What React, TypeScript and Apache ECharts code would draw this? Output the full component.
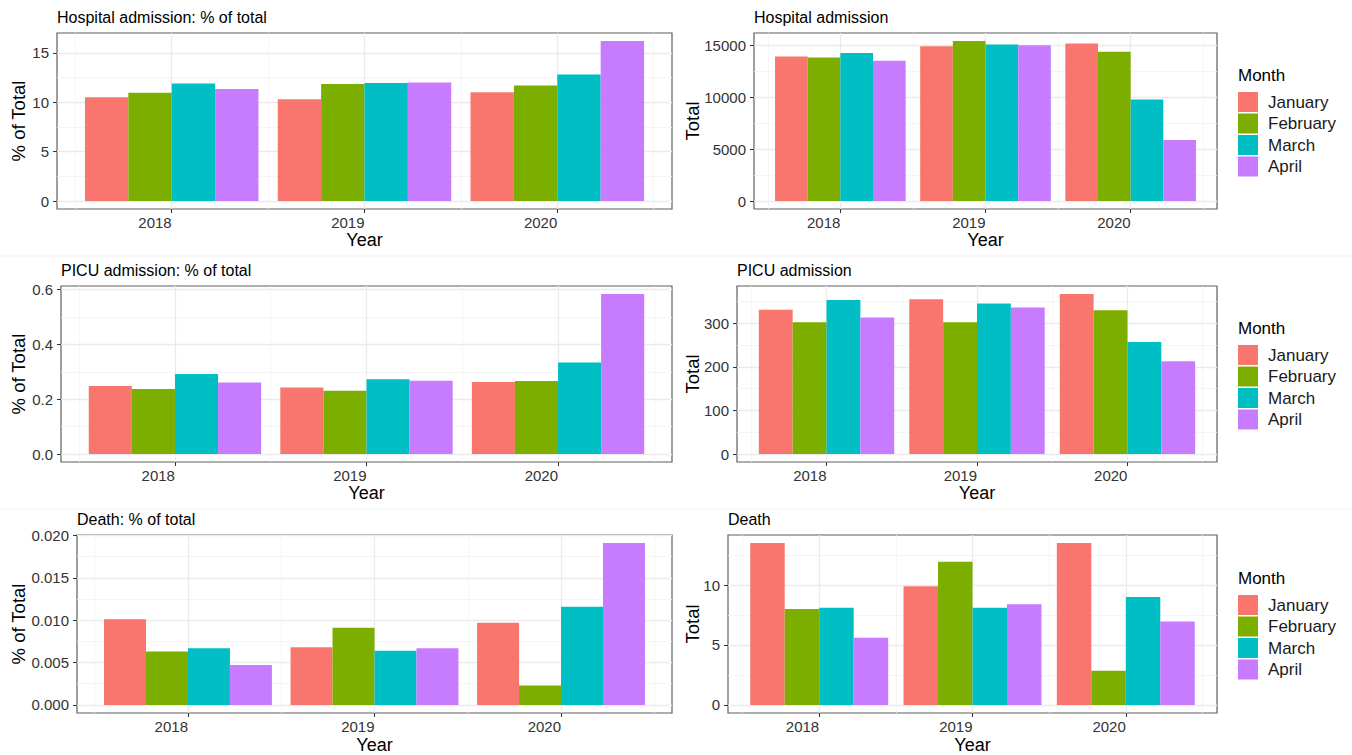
import React, { useEffect, useRef } from "react";
import * as echarts from "echarts";

// ---------- data ----------
const years = [2018, 2019, 2020];
const months = ["January", "February", "March", "April"];
const monthColors = ["#F8766D", "#7CAE00", "#00BFC4", "#C77CFF"];

// values indexed [month][year]
const hospitalPct = [
  [10.5, 10.3, 11.0],
  [10.95, 11.85, 11.7],
  [11.9, 11.95, 12.8],
  [11.35, 12.0, 16.2],
];
const hospitalTotal = [
  [13950, 14950, 15200],
  [13850, 15450, 14400],
  [14300, 15100, 9800],
  [13550, 15050, 5900],
];
const picuPct = [
  [0.248, 0.243, 0.263],
  [0.237, 0.231, 0.266],
  [0.292, 0.273, 0.334],
  [0.261, 0.267, 0.584],
];
const picuTotal = [
  [331, 355, 367],
  [302, 302, 330],
  [353, 345, 257],
  [313, 336, 213],
];
const deathPct = [
  [0.0101, 0.0068, 0.0097],
  [0.0063, 0.0091, 0.0023],
  [0.0067, 0.0064, 0.0116],
  [0.0047, 0.0067, 0.0191],
];
const deathTotal = [
  [13.5, 9.9, 13.5],
  [8.0, 11.95, 2.85],
  [8.1, 8.1, 9.0],
  [5.6, 8.4, 6.95],
];

const hospitalPctTicks = [0, 5, 10, 15];
const hospitalPctMinor = [2.5, 7.5, 12.5];
const hospitalTotalTicks = [0, 5000, 10000, 15000];
const hospitalTotalMinor = [2500, 7500, 12500];
const picuPctTicks = [0, 0.2, 0.4, 0.6];
const picuPctMinor = [0.1, 0.3, 0.5];
const picuTotalTicks = [0, 100, 200, 300];
const picuTotalMinor = [50, 150, 250, 350];
const deathPctTicks = [0, 0.005, 0.01, 0.015, 0.02];
const deathPctMinor = [0.0025, 0.0075, 0.0125, 0.0175];
const deathTotalTicks = [0, 5, 10];
const deathTotalMinor = [2.5, 7.5, 12.5];
const yearMinor = [2017.5, 2018.5, 2019.5, 2020.5];

const titles = [
  "Hospital admission: % of total",
  "Hospital admission",
  "PICU admission: % of total",
  "PICU admission",
  "Death: % of total",
  "Death",
];
const yTitles = ["% of Total", "Total", "% of Total", "Total", "% of Total", "Total"];
const xTitle = "Year";
const legendTitle = "Month";

// ---------- layout ----------
const FONT = "Liberation Sans";
const panels = [
  { left: 57, right: 672, top: 33, bottom: 209, titleX: 57, yTitleX: 18, xTitleY: 240, values: hospitalPct, ticks: hospitalPctTicks, minor: hospitalPctMinor, dec: 0 },
  { left: 754, right: 1217, top: 33, bottom: 209, titleX: 754, yTitleX: 692, xTitleY: 240, values: hospitalTotal, ticks: hospitalTotalTicks, minor: hospitalTotalMinor, dec: 0 },
  { left: 61, right: 672, top: 286, bottom: 462, titleX: 61, yTitleX: 18, xTitleY: 493, values: picuPct, ticks: picuPctTicks, minor: picuPctMinor, dec: 1 },
  { left: 737, right: 1217, top: 286, bottom: 462, titleX: 737, yTitleX: 692, xTitleY: 493, values: picuTotal, ticks: picuTotalTicks, minor: picuTotalMinor, dec: 0 },
  { left: 77, right: 672, top: 535, bottom: 713, titleX: 77, yTitleX: 18, xTitleY: 745, values: deathPct, ticks: deathPctTicks, minor: deathPctMinor, dec: 3 },
  { left: 728, right: 1217, top: 535, bottom: 713, titleX: 728, yTitleX: 692, xTitleY: 745, values: deathTotal, ticks: deathTotalTicks, minor: deathTotalMinor, dec: 0 },
];
const legendRows = [
  { titleY: 75, top: 92 },
  { titleY: 328, top: 345 },
  { titleY: 578, top: 595 },
];

function buildOption() {
  const barFrac = 0.9; // ggplot dodge width
  const span = years[years.length - 1] - years[0] + barFrac;
  const xMin = years[0] - barFrac / 2 - 0.05 * span;
  const xMax = years[years.length - 1] + barFrac / 2 + 0.05 * span;

  const grid: any[] = [];
  const xAxis: any[] = [];
  const yAxis: any[] = [];
  const series: any[] = [];
  const elements: any[] = [];

  panels.forEach((p, i) => {
    const maxV = Math.max(...p.values.flat());
    const yMin = -0.05 * maxV;
    const yMax = 1.05 * maxV;
    grid.push({
      left: p.left,
      top: p.top,
      width: p.right - p.left,
      height: p.bottom - p.top,
      show: true,
      borderColor: "#5f5f5f",
      borderWidth: 1.2,
      backgroundColor: "#ffffff",
      containLabel: false,
      outerBoundsMode: "none",
    });
    // major x axis
    xAxis.push({
      type: "value",
      gridIndex: i,
      min: xMin,
      max: xMax,
      position: "bottom",
      axisLine: { show: false, onZero: false },
      axisTick: { show: true, length: 4, customValues: years, lineStyle: { color: "#333333", width: 1 } },
      axisLabel: {
        customValues: years,
        align: "right",
        margin: 6,
        fontSize: 15,
        fontFamily: FONT,
        color: "#333333",
        formatter: (v: number) => String(v),
      },
      splitLine: { show: true, lineStyle: { color: "#EBEBEB", width: 1.3 } },
    });
    // minor x axis (grid lines only)
    xAxis.push({
      type: "value",
      gridIndex: i,
      min: xMin,
      max: xMax,
      position: "top",
      axisLine: { show: false, onZero: false },
      axisTick: { show: false, customValues: yearMinor },
      axisLabel: { show: false, customValues: yearMinor },
      splitLine: { show: true, lineStyle: { color: "#F2F2F2", width: 0.8 } },
    });
    yAxis.push({
      type: "value",
      gridIndex: i,
      min: yMin,
      max: yMax,
      position: "left",
      axisLine: { show: false, onZero: false },
      axisTick: { show: true, length: 4, customValues: p.ticks, lineStyle: { color: "#333333", width: 1 } },
      axisLabel: {
        customValues: p.ticks,
        margin: 8,
        fontSize: 15,
        fontFamily: FONT,
        color: "#333333",
        formatter: (v: number) => v.toFixed(p.dec),
      },
      splitLine: { show: true, lineStyle: { color: "#EBEBEB", width: 1.3 } },
    });
    yAxis.push({
      type: "value",
      gridIndex: i,
      min: yMin,
      max: yMax,
      position: "right",
      axisLine: { show: false, onZero: false },
      axisTick: { show: false, customValues: p.minor },
      axisLabel: { show: false, customValues: p.minor },
      splitLine: { show: true, lineStyle: { color: "#F2F2F2", width: 0.8 } },
    });
    months.forEach((m, mi) => {
      series.push({
        type: "bar",
        name: m,
        xAxisIndex: 2 * i,
        yAxisIndex: 2 * i,
        data: years.map((y, k) => [y, p.values[mi][k]]),
        barWidth: (barFrac / months.length) * 100 + "%",
        barGap: "0%",
        itemStyle: { color: monthColors[mi] },
        emphasis: { disabled: true },
      });
    });
    // plot title
    elements.push({
      type: "text",
      x: p.titleX,
      y: p.top - 16,
      style: { text: titles[i], fontSize: 16, fontFamily: FONT, fill: "#000", textAlign: "left", textVerticalAlign: "middle" },
    });
    // y title
    elements.push({
      type: "text",
      x: p.yTitleX,
      y: (p.top + p.bottom) / 2,
      rotation: Math.PI / 2,
      style: { text: yTitles[i], fontSize: 18.5, fontFamily: FONT, fill: "#000", textAlign: "center", textVerticalAlign: "middle" },
    });
    // x title
    elements.push({
      type: "text",
      x: (p.left + p.right) / 2,
      y: p.xTitleY,
      style: { text: xTitle, fontSize: 18, fontFamily: FONT, fill: "#000", textAlign: "center", textVerticalAlign: "middle" },
    });
  });

  // faint separators between rows
  [256, 509].forEach((y) => {
    elements.push({ type: "line", shape: { x1: 0, y1: y, x2: 1352, y2: y }, style: { stroke: "#F3F3F3", lineWidth: 1 }, silent: true });
  });

  const legend = legendRows.map((r) => ({
    data: months,
    orient: "vertical",
    left: 1238,
    top: r.top,
    padding: 0,
    itemWidth: 20,
    itemHeight: 20,
    itemGap: 1.5,
    icon: "rect",
    selectedMode: false,
    textStyle: { fontSize: 17, fontFamily: FONT, color: "#1a1a1a", padding: [0, 0, 0, 5] },
  }));
  legendRows.forEach((r) => {
    elements.push({
      type: "text",
      x: 1238,
      y: r.titleY,
      style: { text: legendTitle, fontSize: 17, fontFamily: FONT, fill: "#000", textAlign: "left", textVerticalAlign: "middle" },
    });
  });

  return {
    animation: false,
    backgroundColor: "#ffffff",
    textStyle: { fontFamily: FONT },
    grid,
    xAxis,
    yAxis,
    series,
    legend,
    graphic: { elements },
  };
}

export default function App() {
  const ref = useRef<HTMLDivElement>(null);
  useEffect(() => {
    if (!ref.current) return;
    const chart = echarts.init(ref.current, null, { renderer: "svg" });
    chart.setOption(buildOption() as any);
    return () => chart.dispose();
  }, []);
  return (
    <div
      ref={ref}
      style={{ position: "absolute", left: 0, top: 0, width: 1352, height: 755, background: "#fff" }}
    />
  );
}
